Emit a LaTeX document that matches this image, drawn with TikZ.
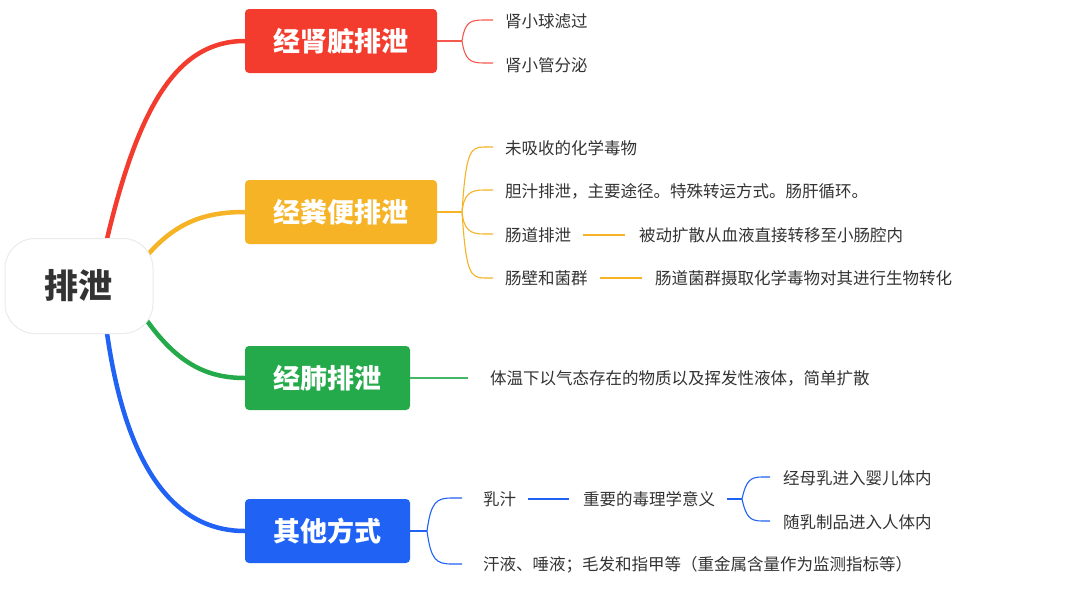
\documentclass[tikz,border=0pt]{standalone}
\usepackage{fontspec}
\setmainfont{Noto Sans CJK SC}
\usetikzlibrary{backgrounds}
\definecolor{cred}{HTML}{F33B2E}
\definecolor{cyel}{HTML}{F5B325}
\definecolor{cgrn}{HTML}{24A94B}
\definecolor{cblu}{HTML}{1F62F4}
\definecolor{ctxt}{HTML}{333333}
\definecolor{croot}{HTML}{333333}
\tikzset{
  rootbox/.style={draw=black!8, line width=1pt, fill=white, rounded corners=30pt, minimum width=148pt, minimum height=95pt, inner sep=0pt, text=croot, font=\fontsize{34}{40}\selectfont\bfseries},
  mainbox/.style={rounded corners=4pt, minimum height=64pt, inner sep=0pt, text=white, font=\fontsize{27}{30}\selectfont\bfseries},
  leaf/.style={anchor=west, inner sep=0pt, text=ctxt, font=\fontsize{16.5}{20}\selectfont},
  branch/.style={line width=4.5pt, line cap=round},
  twig/.style={line width=1.1pt},
}
\begin{document}
\begin{tikzpicture}[x=1pt,y=-1pt]
\useasboundingbox (0,0) rectangle (1080,592);
% root and main boxes
\node[rootbox] (root) at (79,286) {排泄};
\node[mainbox, fill=cred, minimum width=192pt] (kid) at (341,41) {经肾脏排泄};
\node[mainbox, fill=cyel, minimum width=192pt] (fec) at (341,212) {经粪便排泄};
\node[mainbox, fill=cgrn, minimum width=165pt] (lung) at (327.5,378) {经肺排泄};
\node[mainbox, fill=cblu, minimum width=165pt] (oth) at (327.5,531) {其他方式};
% anchors on root
\coordinate (r1) at (107,239);
\coordinate (r2) at (145,258);
\coordinate (r3) at (143,315);
\coordinate (r4) at (107,333);
\begin{scope}[on background layer]
\fill[white] (0,0) rectangle (1080,592);
\draw[branch, cred] (r1) .. controls (140,100) and (180,41) .. (kid.west);
\draw[branch, cyel] (r2) .. controls (175,222) and (205,212) .. (fec.west);
\draw[branch, cgrn] (r3) .. controls (175,362) and (205,378) .. (lung.west);
\draw[branch, cblu] (r4) .. controls (125,460) and (170,531) .. (oth.west);
\end{scope}
% kidney leaves
\node[leaf] (k1) at (505,21) {肾小球滤过};
\node[leaf] (k2) at (505,65) {肾小管分泌};
\coordinate (ks) at (462,41);
\draw[twig, cred!85] (kid.east) -- (ks);
\draw[twig, cred!85] (ks) .. controls (465,22) and (470,20) .. (484,20) -- (493,20);
\draw[twig, cred!85] (ks) .. controls (465,60) and (470,63) .. (484,63) -- (493,63);
% feces leaves
\node[leaf] (f1) at (505,148) {未吸收的化学毒物};
\node[leaf] (f2) at (505,191) {胆汁排泄，主要途径。特殊转运方式。肠肝循环。};
\node[leaf] (f3) at (505,235) {肠道排泄};
\node[leaf] (f3b) at (639,235) {被动扩散从血液直接转移至小肠腔内};
\node[leaf] (f4) at (505,278) {肠壁和菌群};
\node[leaf] (f4b) at (655,278) {肠道菌群摄取化学毒物对其进行生物转化};
\coordinate (fs) at (462,212);
\draw[twig, cyel] (fec.east) -- (fs);
\draw[twig, cyel] (fs) .. controls (466,152) and (470,147) .. (484,147) -- (493,147);
\draw[twig, cyel] (fs) .. controls (464,194) and (470,190) .. (484,190) -- (493,190);
\draw[twig, cyel] (fs) .. controls (464,230) and (470,234) .. (484,234) -- (493,234);
\draw[twig, cyel] (fs) .. controls (466,272) and (470,278) .. (484,278) -- (493,278);
\draw[twig, cyel] ([xshift=12pt]f3.east) -- ([xshift=-14pt]f3b.west);
\draw[twig, cyel] ([xshift=12pt]f4.east) -- ([xshift=-13pt]f4b.west);
% lung leaf
\node[leaf] (l1) at (490,378) {体温下以气态存在的物质以及挥发性液体，简单扩散};
\draw[twig, cgrn!85] (lung.east) -- ([xshift=-22pt]l1.west);
% other leaves
\node[leaf] (o1) at (483,499) {乳汁};
\node[leaf] (o1b) at (583,499) {重要的毒理学意义};
\node[leaf] (o1c) at (783,478) {经母乳进入婴儿体内};
\node[leaf] (o1d) at (783,522) {随乳制品进入人体内};
\node[leaf] (o2) at (483,565) {汗液、唾液；毛发和指甲等（重金属含量作为监测指标等）};
\coordinate (os) at (427,531);
\draw[twig, cblu] (oth.east) -- (os);
\draw[twig, cblu] (os) .. controls (431,502) and (436,498) .. (452,498) -- (462,498);
\draw[twig, cblu] (os) .. controls (431,560) and (436,564) .. (452,564) -- (462,564);
\draw[twig, cblu] ([xshift=12pt]o1.east) -- ([xshift=-14pt]o1b.west);
\coordinate (os2) at (742,499);
\draw[twig, cblu] ([xshift=12pt]o1b.east) -- (os2);
\draw[twig, cblu] (os2) .. controls (746,481) and (750,477) .. (762,477) -- (770,477);
\draw[twig, cblu] (os2) .. controls (746,517) and (750,521) .. (762,521) -- (770,521);
\end{tikzpicture}
\end{document}
